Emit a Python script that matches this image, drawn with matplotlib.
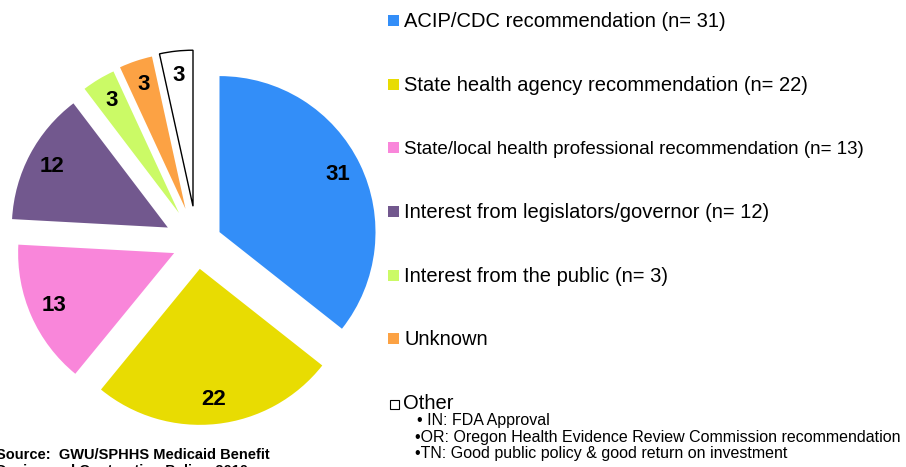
import matplotlib
matplotlib.use("Agg")
import matplotlib.pyplot as plt
from matplotlib.patches import Rectangle

plt.rcParams['font.family'] = ['Liberation Sans', 'DejaVu Sans']

# дані
counts = [31, 22, 13, 12, 3, 3, 3]
labels = [
    "ACIP/CDC recommendation (n= 31)",
    "State health agency recommendation (n= 22)",
    "State/local health professional recommendation (n= 13)",
    "Interest from legislators/governor (n= 12)",
    "Interest from the public (n= 3)",
    "Unknown",
    "Other",
]
other_notes = [
    "\u2022 IN: FDA Approval",
    "\u2022OR: Oregon Health Evidence Review Commission recommendation",
    "\u2022TN: Good public policy & good return on investment",
]
colors = ["#338ef8", "#e8dc02", "#f986da", "#72588e", "#cbfa66", "#fca244", "#ffffff"]

W, H = 906, 467
fig = plt.figure(figsize=(W / 100, H / 100), dpi=100)
ax = fig.add_axes([0, 0, 1, 1])

# зсув секторів (в пікселях)
explode = [25, 26, 25, 33, 35, 36, 37]
total = sum(counts)

wedges, texts, autotexts = ax.pie(
    counts, explode=explode, colors=colors, startangle=90, counterclock=False,
    radius=156, center=(197, H - 243),
    wedgeprops=dict(linewidth=0),
    autopct=lambda p: "%d" % round(p * total / 100.0),
    pctdistance=0.84,
    textprops=dict(fontsize=16, fontweight='bold', color='black'),
)
wedges[-1].set_edgecolor('black')
wedges[-1].set_linewidth(1)

ax.set_xlim(0, W)
ax.set_ylim(0, H)
ax.set_aspect('equal')
ax.axis('off')

# легенда
row_y = [27, 90.7, 154.3, 218, 281.7, 345.3, 409]
sizes = [14.5, 14.5, 13.5, 14.5, 14.5, 14.5, 14.5]
for i, (lab, col) in enumerate(zip(labels, colors)):
    y = H - row_y[i]
    if i < 6:
        ax.add_patch(Rectangle((388, y + 1), 11, 11, facecolor=col, edgecolor='none'))
        ax.text(404, y, lab, fontsize=sizes[i], va='baseline', ha='left')
    else:
        ax.add_patch(Rectangle((390, y + 0.5), 9, 9, facecolor=col, edgecolor='black', linewidth=0.8))
        ax.text(403, y, lab, fontsize=sizes[i], va='baseline', ha='left')

note_y = [425, 442, 458]
note_x = [417, 415, 415]
for t, x, y in zip(other_notes, note_x, note_y):
    ax.text(x, H - y, t, fontsize=11.5, va='baseline', ha='left')

ax.text(-4, H - 459, "Source:  GWU/SPHHS Medicaid Benefit", fontsize=10.5, fontweight='bold',
        va='baseline', ha='left')
ax.text(-4, H - 475, "Design and Contracting Policy, 2010", fontsize=10.5, fontweight='bold',
        va='baseline', ha='left')

fig.savefig("out.png", dpi=100)
